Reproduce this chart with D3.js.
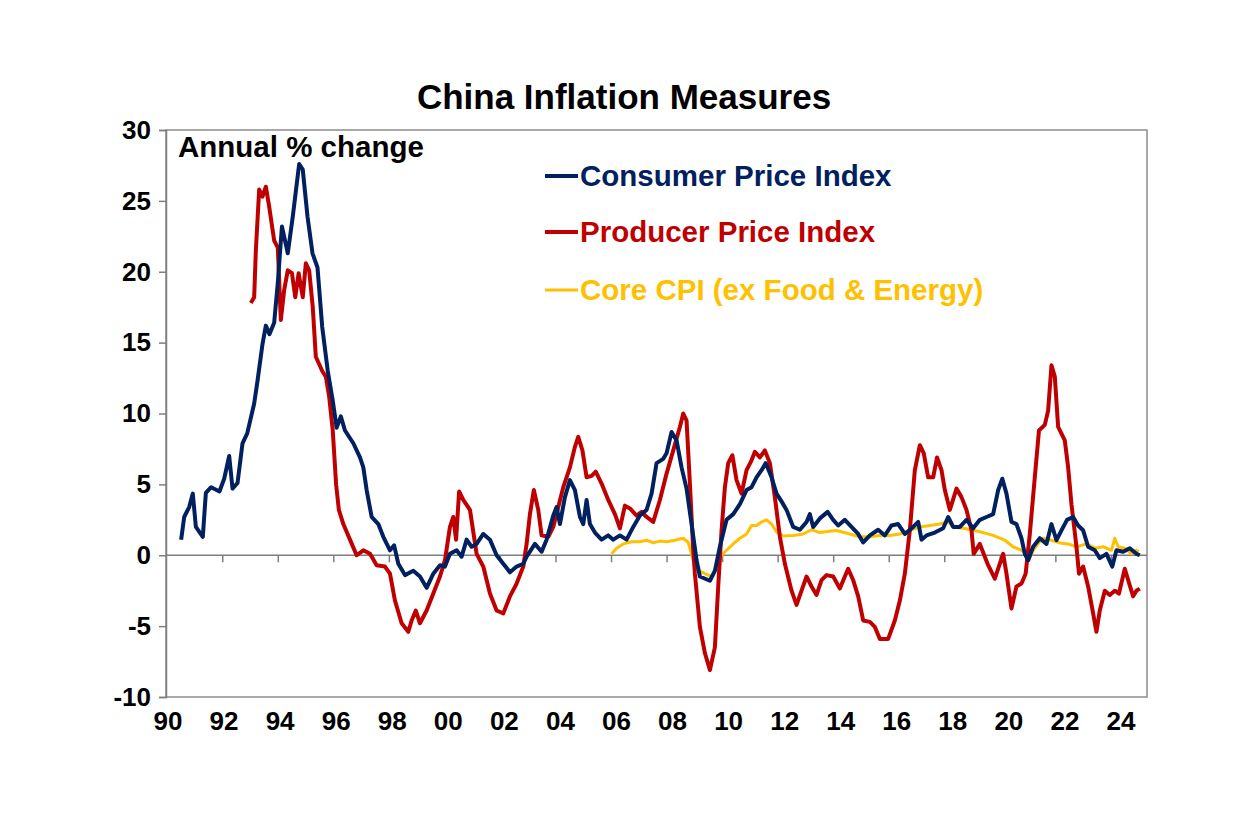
<!DOCTYPE html>
<html>
<head>
<meta charset="utf-8">
<script src="https://cdn.jsdelivr.net/npm/d3@7"></script>
<style>
  html, body { margin: 0; padding: 0; background: #ffffff; }
  svg { display: block; font-family: "Liberation Sans", Arial, sans-serif; }
</style>
</head>
<body>
<svg id="chart" width="1249" height="832"></svg>
<script>
// ---------------- DATA ----------------
const title = "China Inflation Measures";
const unitLabel = "Annual % change";
const seriesNames = ["Consumer Price Index", "Producer Price Index", "Core CPI (ex Food & Energy)"];
const yTicks = [-10, -5, 0, 5, 10, 15, 20, 25, 30];
const xTickYears = [1990, 1992, 1994, 1996, 1998, 2000, 2002, 2004, 2006, 2008, 2010, 2012, 2014, 2016, 2018, 2020, 2022, 2024];
const xTickLabels = ["90","92","94","96","98","00","02","04","06","08","10","12","14","16","18","20","22","24"];

// [decimal year, annual % change]
const cpi = [
[1990.52,1.1],[1990.63,2.7],[1990.81,3.4],[1990.94,4.35],[1991.05,2.0],[1991.3,1.3],[1991.41,4.4],[1991.6,4.8],[1991.9,4.5],
[1992.07,5.4],[1992.25,7.0],[1992.37,4.7],[1992.55,5.1],[1992.73,7.9],[1992.9,8.6],[1993.15,10.7],[1993.27,12.3],[1993.45,14.9],
[1993.57,16.2],[1993.7,15.6],[1993.87,16.4],[1994.0,19.2],[1994.15,23.2],[1994.36,21.3],[1994.54,23.9],[1994.77,27.6],[1994.9,27.2],
[1995.07,23.9],[1995.25,21.3],[1995.43,20.3],[1995.6,16.1],[1995.8,13.0],[1995.98,10.9],[1996.12,9.0],[1996.27,9.8],[1996.42,8.8],
[1996.72,7.9],[1996.96,6.9],[1997.08,6.2],[1997.2,4.6],[1997.38,2.7],[1997.62,2.2],[1997.8,1.3],[1998.04,0.35],[1998.19,0.7],
[1998.34,-0.6],[1998.58,-1.4],[1998.88,-1.1],[1999.12,-1.5],[1999.36,-2.3],[1999.6,-1.3],[1999.84,-0.7],[2000.02,-0.8],[2000.2,0.1],
[2000.44,0.35],[2000.62,-0.1],[2000.8,1.1],[2000.98,0.6],[2001.16,0.8],[2001.4,1.5],[2001.64,1.1],[2001.88,0],[2002.12,-0.6],
[2002.36,-1.2],[2002.6,-0.8],[2002.84,-0.6],[2002.96,-0.1],[2003.26,0.8],[2003.5,0.25],[2003.68,1.1],[2003.92,2.8],[2004.04,3.4],
[2004.16,2.2],[2004.34,4.1],[2004.52,5.3],[2004.7,4.6],[2004.88,2.7],[2005.0,2.2],[2005.12,3.9],[2005.24,2.2],[2005.42,1.6],
[2005.66,1.1],[2005.9,1.4],[2006.08,1.1],[2006.32,1.4],[2006.56,1.1],[2006.8,2.0],[2007.04,2.8],[2007.28,3.2],[2007.46,4.35],
[2007.64,6.5],[2007.88,6.8],[2008.0,7.2],[2008.18,8.7],[2008.36,8.1],[2008.54,6.2],[2008.72,4.7],[2008.9,2.2],[2009.08,-0.35],
[2009.2,-1.5],[2009.56,-1.8],[2009.74,-1.1],[2009.92,0.6],[2010.16,2.5],[2010.4,2.9],[2010.64,3.6],[2010.88,4.6],[2011.06,4.8],
[2011.24,5.5],[2011.42,6.0],[2011.57,6.5],[2011.78,5.5],[2011.96,4.35],[2012.14,3.8],[2012.32,3.2],[2012.56,2.0],[2012.8,1.8],
[2013.04,2.35],[2013.16,2.9],[2013.28,2.0],[2013.52,2.6],[2013.8,3.06],[2014.0,2.5],[2014.18,2.1],[2014.42,2.5],[2014.66,2.0],
[2014.9,1.5],[2015.08,0.9],[2015.32,1.4],[2015.62,1.8],[2015.86,1.4],[2016.1,2.1],[2016.34,2.2],[2016.58,1.5],[2016.88,2.0],
[2017.06,2.35],[2017.18,1.1],[2017.36,1.4],[2017.66,1.6],[2017.96,1.9],[2018.14,2.7],[2018.32,2.0],[2018.56,2.0],[2018.8,2.5],
[2019.04,1.9],[2019.28,2.5],[2019.52,2.7],[2019.76,2.9],[2019.94,4.6],[2020.09,5.4],[2020.24,4.35],[2020.42,2.35],[2020.6,2.2],
[2020.78,1.2],[2020.9,0.1],[2021.02,-0.35],[2021.2,0.6],[2021.44,1.2],[2021.68,0.8],[2021.86,2.2],[2022.04,1.06],[2022.22,1.76],
[2022.42,2.5],[2022.64,2.7],[2022.82,2.1],[2023.0,1.76],[2023.18,0.6],[2023.42,0.35],[2023.6,-0.2],[2023.84,0.1],[2024.05,-0.8],
[2024.2,0.35],[2024.44,0.25],[2024.68,0.5],[2024.92,0.1],[2025.04,0.0]
];

const ppi = [
[1993.03,17.8],[1993.15,18.2],[1993.21,21.5],[1993.33,25.8],[1993.45,25.3],[1993.57,26.0],[1993.69,24.6],[1993.87,22.2],[1994.0,21.7],
[1994.11,16.6],[1994.23,18.7],[1994.36,20.1],[1994.51,19.9],[1994.63,18.2],[1994.75,19.9],[1994.9,18.2],[1995.01,20.6],[1995.13,20.1],
[1995.26,17.5],[1995.37,14.0],[1995.6,13.0],[1995.73,12.6],[1995.85,11.2],[1995.98,8.8],[1996.1,5.0],[1996.2,3.2],[1996.36,2.2],
[1996.6,1.1],[1996.84,0],[1997.08,0.35],[1997.32,0.1],[1997.56,-0.7],[1997.86,-0.8],[1998.04,-1.3],[1998.22,-3.2],[1998.46,-4.8],
[1998.7,-5.4],[1998.82,-4.6],[1998.97,-3.9],[1999.12,-4.8],[1999.36,-3.9],[1999.6,-2.7],[1999.84,-1.5],[2000.02,-0.35],[2000.2,2.0],
[2000.32,2.7],[2000.42,1.1],[2000.53,4.5],[2000.68,3.9],[2000.92,3.2],[2001.16,0.1],[2001.4,-0.8],[2001.64,-2.7],[2001.88,-3.9],
[2002.12,-4.1],[2002.36,-2.9],[2002.6,-2.0],[2002.84,-0.8],[2002.96,0.8],[2003.08,2.9],[2003.22,4.6],[2003.38,3.2],[2003.5,1.4],
[2003.74,1.3],[2003.92,2.0],[2004.1,3.4],[2004.28,4.8],[2004.52,6.2],[2004.7,7.65],[2004.82,8.35],[2004.97,7.4],[2005.12,5.5],
[2005.3,5.6],[2005.45,5.9],[2005.66,5.06],[2005.9,3.9],[2006.14,2.9],[2006.32,1.9],[2006.5,3.5],[2006.68,3.3],[2006.92,2.8],
[2007.1,3.06],[2007.28,2.7],[2007.52,2.35],[2007.76,3.9],[2008.0,5.76],[2008.24,7.4],[2008.48,9.05],[2008.6,10.0],[2008.72,9.5],
[2008.84,5.06],[2008.96,0.35],[2009.02,-1.3],[2009.2,-5.06],[2009.38,-6.9],[2009.56,-8.1],[2009.74,-6.5],[2009.86,-2.2],[2009.98,1.76],
[2010.1,4.8],[2010.22,6.5],[2010.37,7.05],[2010.52,5.3],[2010.7,4.35],[2010.88,6.0],[2011.06,6.7],[2011.18,7.3],[2011.36,6.9],
[2011.54,7.4],[2011.72,6.5],[2011.9,4.1],[2012.08,1.3],[2012.26,-0.6],[2012.5,-2.5],[2012.68,-3.5],[2012.86,-2.5],[2013.04,-1.5],
[2013.22,-2.2],[2013.4,-2.8],[2013.58,-1.76],[2013.76,-1.4],[2014.0,-1.5],[2014.24,-2.35],[2014.42,-1.5],[2014.54,-0.95],[2014.72,-1.76],
[2014.9,-2.9],[2015.08,-4.6],[2015.32,-4.7],[2015.5,-5.06],[2015.68,-5.9],[2015.98,-5.9],[2016.22,-4.6],[2016.4,-3.2],[2016.58,-1.3],
[2016.76,1.76],[2016.94,6.0],[2017.12,7.76],[2017.26,7.2],[2017.42,5.5],[2017.6,5.5],[2017.74,6.9],[2017.9,6.0],[2018.02,4.6],
[2018.2,3.2],[2018.44,4.7],[2018.62,4.1],[2018.8,3.2],[2018.98,1.76],[2019.06,0.1],[2019.28,0.8],[2019.58,-0.7],[2019.82,-1.65],
[2020.12,0.1],[2020.24,-1.3],[2020.42,-3.76],[2020.6,-2.2],[2020.78,-2.0],[2020.93,-1.3],[2021.08,1.5],[2021.26,5.5],[2021.41,8.8],
[2021.62,9.2],[2021.74,10.2],[2021.86,13.4],[2021.98,12.6],[2022.1,9.05],[2022.34,8.1],[2022.46,6.2],[2022.58,3.6],[2022.76,0.6],
[2022.85,-1.3],[2023.0,-0.8],[2023.18,-2.2],[2023.36,-4.1],[2023.48,-5.4],[2023.6,-3.9],[2023.78,-2.5],[2023.96,-2.8],[2024.14,-2.5],
[2024.29,-2.7],[2024.5,-0.95],[2024.66,-2.0],[2024.8,-2.9],[2024.92,-2.5],[2025.04,-2.35]
];

const core = [
[2006.02,0.1],[2006.2,0.5],[2006.44,0.8],[2006.74,0.95],[2007.04,0.95],[2007.28,1.06],[2007.52,0.87],[2007.76,1.0],[2008.0,0.95],
[2008.3,1.06],[2008.6,1.2],[2008.78,0.9],[2008.96,-0.35],[2009.14,-1.06],[2009.38,-1.3],[2009.62,-1.5],[2009.8,-0.8],[2009.98,0],
[2010.16,0.35],[2010.4,0.8],[2010.64,1.2],[2010.88,1.5],[2011.06,2.1],[2011.24,2.1],[2011.42,2.35],[2011.6,2.5],[2011.78,2.2],
[2011.96,1.65],[2012.2,1.35],[2012.56,1.4],[2012.92,1.5],[2013.22,1.8],[2013.52,1.6],[2013.85,1.7],[2014.12,1.75],[2014.6,1.5],
[2014.96,1.3],[2015.32,1.3],[2015.68,1.4],[2016.04,1.4],[2016.4,1.5],[2016.76,1.76],[2017.12,2.0],[2017.48,2.1],[2017.84,2.2],
[2018.14,2.35],[2018.32,2.0],[2018.68,1.9],[2019.04,1.76],[2019.4,1.6],[2019.76,1.4],[2020.18,1.06],[2020.48,0.6],[2020.78,0.35],
[2020.96,0.1],[2021.05,-0.35],[2021.2,0.35],[2021.37,0.8],[2021.55,1.2],[2021.86,1.06],[2022.16,0.87],[2022.46,0.8],[2022.76,0.6],
[2023.12,0.8],[2023.42,0.5],[2023.72,0.6],[2024.02,0.35],[2024.14,1.2],[2024.26,0.6],[2024.5,0.5],[2024.74,0.1],[2024.92,0.35],
[2025.0,0.25]
];

const colors = ["#002060", "#C00000", "#FFC000"];

// ---------------- CHART ----------------
const svg = d3.select("#chart");
const plot = { left: 166, right: 1147, top: 130, bottom: 697 };

const x = d3.scaleLinear().domain([1990, 2025.3]).range([166.7, plot.right]);
const y = d3.scaleLinear().domain([-10, 30]).range([plot.bottom, plot.top]);

// plot frame
svg.append("rect")
  .attr("x", plot.left).attr("y", plot.top)
  .attr("width", plot.right - plot.left).attr("height", plot.bottom - plot.top)
  .attr("fill", "none").attr("stroke", "#8c8c8c").attr("stroke-width", 1.5);

// Y axis
const yAxis = d3.axisLeft(y).tickValues(yTicks).tickSize(7).tickPadding(8).tickFormat(d => String(d));
const gy = svg.append("g").attr("transform", `translate(${plot.left},0)`).call(yAxis);
gy.select(".domain").attr("stroke", "#7f7f7f").attr("stroke-width", 1.5);
gy.selectAll(".tick line").attr("stroke", "#7f7f7f").attr("stroke-width", 1.5);
gy.selectAll(".tick text")
  .attr("fill", "#000").style("font-size", "26px").style("font-weight", "bold")
  .style("font-family", "'Liberation Sans', Arial, sans-serif");

// X axis at zero line (ticks down), labels at bottom
const xAxis = d3.axisBottom(x).tickValues(xTickYears.slice(1)).tickSize(7).tickFormat("");
const gx = svg.append("g").attr("transform", `translate(0,${y(0)})`).call(xAxis);
gx.select(".domain").attr("d", `M${plot.left},0H${plot.right}`).attr("stroke", "#7f7f7f").attr("stroke-width", 1.5);
gx.selectAll(".tick line").attr("stroke", "#7f7f7f").attr("stroke-width", 1.5);

const labelScale = d3.scalePoint().domain(xTickLabels).range([168, 1121]);
svg.append("g").selectAll("text").data(xTickLabels).join("text")
  .attr("x", d => labelScale(d)).attr("y", 730)
  .attr("text-anchor", "middle")
  .style("font-size", "26px").style("font-weight", "bold")
  .text(d => d);

// lines
const line = d3.line().x(d => x(d[0])).y(d => y(d[1]));
svg.append("clipPath").attr("id", "clip").append("rect")
  .attr("x", plot.left).attr("y", plot.top).attr("width", plot.right - plot.left).attr("height", plot.bottom - plot.top);

const lines = svg.append("g").attr("clip-path", "url(#clip)");
lines.append("path").datum(core).attr("d", line).attr("fill", "none")
  .attr("stroke", colors[2]).attr("stroke-width", 3).attr("stroke-linejoin", "round");
lines.append("path").datum(ppi).attr("d", line).attr("fill", "none")
  .attr("stroke", colors[1]).attr("stroke-width", 4).attr("stroke-linejoin", "round");
lines.append("path").datum(cpi).attr("d", line).attr("fill", "none")
  .attr("stroke", colors[0]).attr("stroke-width", 4).attr("stroke-linejoin", "round");

// title
svg.append("text").attr("x", 624).attr("y", 109).attr("text-anchor", "middle")
  .style("font-size", "35px").style("font-weight", "bold").text(title);

// unit label
svg.append("text").attr("x", 178).attr("y", 157)
  .style("font-size", "29.5px").style("font-weight", "bold").text(unitLabel);

// legend
const legendY = [176, 232, 290];
const lg = svg.append("g");
seriesNames.forEach((name, i) => {
  lg.append("line").attr("x1", 545).attr("x2", 578).attr("y1", legendY[i]).attr("y2", legendY[i])
    .attr("stroke", colors[i]).attr("stroke-width", i === 2 ? 3 : 4);
  lg.append("text").attr("x", 580).attr("y", legendY[i] + 10)
    .attr("fill", colors[i]).style("font-size", "29.5px").style("font-weight", "bold").text(name);
});
</script>
</body>
</html>
